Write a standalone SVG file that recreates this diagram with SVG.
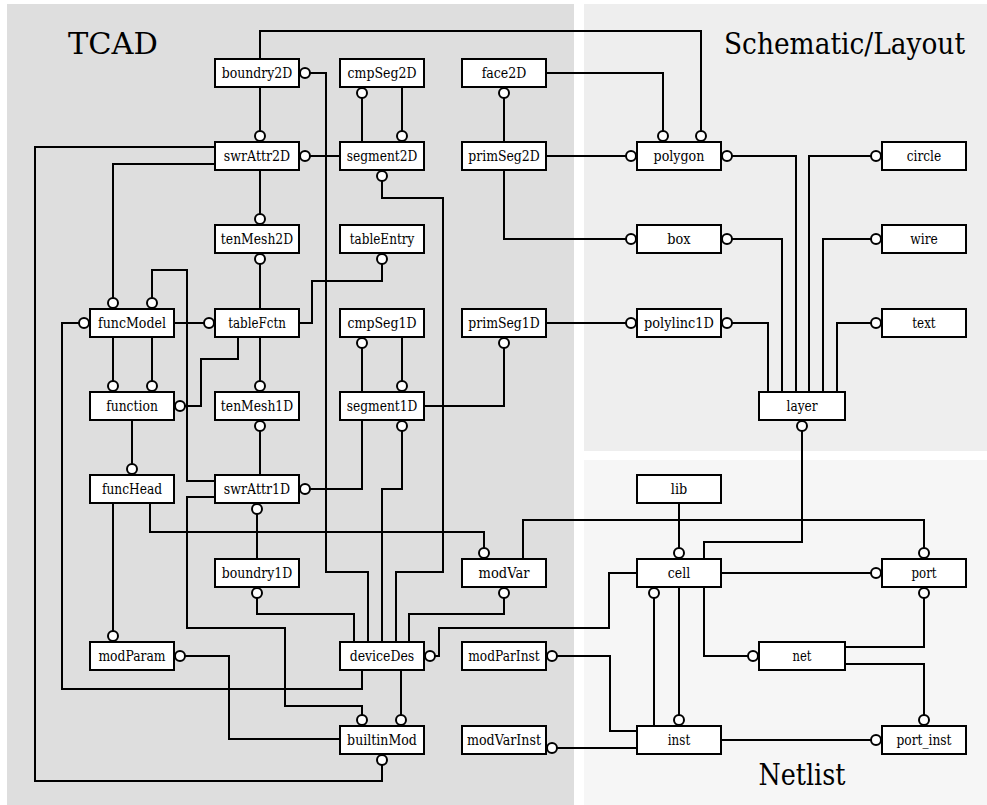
<svg xmlns="http://www.w3.org/2000/svg" width="987" height="805" viewBox="0 0 987 805">
  <style>
    .panel-tcad { fill: #dedede; }
    .panel-sch { fill: #eeeeee; }
    .panel-net { fill: #f6f6f6; }
    text { font-family: 'DejaVu Serif', 'Liberation Serif', serif; fill: #000; }
    .title { font-size: 30px; }
    .box { fill: #fff; stroke: #000; stroke-width: 2; }
    .lbl { font-size: 14px; text-anchor: middle; }
    .c { fill: none; stroke: #000; stroke-width: 2; stroke-linejoin: miter; }
  </style>
  <defs>
    <!-- open circle terminating a relation -->
    <marker id="o" viewBox="-7 -7 14 14" markerWidth="14" markerHeight="14" markerUnits="userSpaceOnUse" refX="0" refY="0" orient="auto">
      <circle r="5" fill="#fff" stroke="#000" stroke-width="2"/>
    </marker>
  </defs>

  <rect width="987" height="805" fill="#fff"/>

  <!-- domain panels -->
  <g id="panels">
    <rect class="panel-tcad" x="7" y="4" width="567" height="801"/>
    <rect class="panel-sch" x="584" y="4" width="403" height="447"/>
    <rect class="panel-net" x="584" y="460" width="403" height="345"/>
    <text class="title" x="68" y="54" textLength="90" lengthAdjust="spacingAndGlyphs">TCAD</text>
    <text class="title" x="965" y="54" text-anchor="end" textLength="241" lengthAdjust="spacingAndGlyphs">Schematic/Layout</text>
    <text class="title" x="802" y="785" text-anchor="middle" textLength="87" lengthAdjust="spacingAndGlyphs">Netlist</text>
  </g>

  <!-- relations -->
  <g id="connectors">
    <path class="c" d="M260,59 V31 H701 V136" marker-end="url(#o)"/>
    <path class="c" d="M260,87 V136" marker-end="url(#o)"/>
    <path class="c" d="M305,73 H326 V572 H368 V642" marker-start="url(#o)"/>
    <path class="c" d="M305,156 H340" marker-start="url(#o)"/>
    <path class="c" d="M362,93 V142" marker-start="url(#o)"/>
    <path class="c" d="M402,87 V136" marker-end="url(#o)"/>
    <path class="c" d="M382,176 V198 H443 V572 H396 V642" marker-start="url(#o)"/>
    <path class="c" d="M504,93 V142" marker-start="url(#o)"/>
    <path class="c" d="M546,73 H663 V136" marker-end="url(#o)"/>
    <path class="c" d="M546,156 H631" marker-end="url(#o)"/>
    <path class="c" d="M504,170 V239 H631" marker-end="url(#o)"/>
    <path class="c" d="M727,156 H796 V392" marker-start="url(#o)"/>
    <path class="c" d="M727,239 H782 V392" marker-start="url(#o)"/>
    <path class="c" d="M727,323 H768 V392" marker-start="url(#o)"/>
    <path class="c" d="M876,156 H809 V392" marker-start="url(#o)"/>
    <path class="c" d="M876,239 H823 V392" marker-start="url(#o)"/>
    <path class="c" d="M876,323 H837 V392" marker-start="url(#o)"/>
    <path class="c" d="M802,426 V542 H704 V559" marker-start="url(#o)"/>
    <path class="c" d="M679,503 V553" marker-end="url(#o)"/>
    <path class="c" d="M523,559 V520 H924 V553" marker-end="url(#o)"/>
    <path class="c" d="M721,573 H876" marker-end="url(#o)"/>
    <path class="c" d="M924,593 V647 H845" marker-start="url(#o)"/>
    <path class="c" d="M845,664 H924 V720" marker-end="url(#o)"/>
    <path class="c" d="M704,587 V656 H753" marker-end="url(#o)"/>
    <path class="c" d="M654,593 V726" marker-start="url(#o)"/>
    <path class="c" d="M679,587 V720" marker-end="url(#o)"/>
    <path class="c" d="M721,740 H876" marker-end="url(#o)"/>
    <path class="c" d="M552,656 H610 V731 H637" marker-start="url(#o)"/>
    <path class="c" d="M552,748 H637" marker-start="url(#o)"/>
    <path class="c" d="M430,656 H439 V628 H609 V573 H637" marker-start="url(#o)"/>
    <path class="c" d="M504,593 V614 H409 V642" marker-start="url(#o)"/>
    <path class="c" d="M401,670 V720" marker-end="url(#o)"/>
    <path class="c" d="M84,323 H62 V689 H362 V670" marker-start="url(#o)"/>
    <path class="c" d="M215,497 H187 V628 H285 V706 H362 V720" marker-end="url(#o)"/>
    <path class="c" d="M152,303 V270 H187 V481 H215" marker-start="url(#o)"/>
    <path class="c" d="M215,147 H35 V781 H382 V760" marker-end="url(#o)"/>
    <path class="c" d="M215,164 H113 V303" marker-end="url(#o)"/>
    <path class="c" d="M174,323 H209" marker-end="url(#o)"/>
    <path class="c" d="M260,259 V309" marker-start="url(#o)"/>
    <path class="c" d="M260,170 V219" marker-end="url(#o)"/>
    <path class="c" d="M299,323 H312 V281 H382 V259" marker-end="url(#o)"/>
    <path class="c" d="M238,337 V359 H201 V406 H180" marker-end="url(#o)"/>
    <path class="c" d="M260,337 V386" marker-end="url(#o)"/>
    <path class="c" d="M113,337 V386" marker-end="url(#o)"/>
    <path class="c" d="M152,337 V386" marker-end="url(#o)"/>
    <path class="c" d="M132,420 V469" marker-end="url(#o)"/>
    <path class="c" d="M260,426 V475" marker-start="url(#o)"/>
    <path class="c" d="M305,489 H362 V420" marker-start="url(#o)"/>
    <path class="c" d="M257,509 V559" marker-start="url(#o)"/>
    <path class="c" d="M257,593 V614 H354 V642" marker-start="url(#o)"/>
    <path class="c" d="M402,426 V489 H382 V642" marker-start="url(#o)"/>
    <path class="c" d="M362,343 V392" marker-start="url(#o)"/>
    <path class="c" d="M402,337 V386" marker-end="url(#o)"/>
    <path class="c" d="M424,406 H504 V343" marker-end="url(#o)"/>
    <path class="c" d="M546,323 H631" marker-end="url(#o)"/>
    <path class="c" d="M113,503 V636" marker-end="url(#o)"/>
    <path class="c" d="M150,503 V532 H484 V553" marker-end="url(#o)"/>
    <path class="c" d="M180,656 H229 V739 H340" marker-start="url(#o)"/>
  </g>

  <!-- TCAD entities -->
  <g id="boundry2D"><rect class="box" x="215" y="59" width="84" height="28"/><text class="lbl" x="257" y="78" textLength="70.6" lengthAdjust="spacingAndGlyphs">boundry2D</text></g>
  <g id="cmpSeg2D"><rect class="box" x="340" y="59" width="84" height="28"/><text class="lbl" x="382" y="78" textLength="68.9" lengthAdjust="spacingAndGlyphs">cmpSeg2D</text></g>
  <g id="face2D"><rect class="box" x="462" y="59" width="84" height="28"/><text class="lbl" x="504" y="78" textLength="44.7" lengthAdjust="spacingAndGlyphs">face2D</text></g>
  <g id="swrAttr2D"><rect class="box" x="215" y="142" width="84" height="28"/><text class="lbl" x="257" y="161" textLength="66.3" lengthAdjust="spacingAndGlyphs">swrAttr2D</text></g>
  <g id="segment2D"><rect class="box" x="340" y="142" width="84" height="28"/><text class="lbl" x="382" y="161" textLength="70.6" lengthAdjust="spacingAndGlyphs">segment2D</text></g>
  <g id="primSeg2D"><rect class="box" x="462" y="142" width="84" height="28"/><text class="lbl" x="504" y="161" textLength="71.5" lengthAdjust="spacingAndGlyphs">primSeg2D</text></g>
  <g id="tenMesh2D"><rect class="box" x="215" y="225" width="84" height="28"/><text class="lbl" x="257" y="244" textLength="72.3" lengthAdjust="spacingAndGlyphs">tenMesh2D</text></g>
  <g id="tableEntry"><rect class="box" x="340" y="225" width="84" height="28"/><text class="lbl" x="382" y="244" textLength="64.6" lengthAdjust="spacingAndGlyphs">tableEntry</text></g>
  <g id="funcModel"><rect class="box" x="90" y="309" width="84" height="28"/><text class="lbl" x="132" y="328" textLength="68" lengthAdjust="spacingAndGlyphs">funcModel</text></g>
  <g id="tableFctn"><rect class="box" x="215" y="309" width="84" height="28"/><text class="lbl" x="257" y="328" textLength="57.7" lengthAdjust="spacingAndGlyphs">tableFctn</text></g>
  <g id="cmpSeg1D"><rect class="box" x="340" y="309" width="84" height="28"/><text class="lbl" x="382" y="328" textLength="68.9" lengthAdjust="spacingAndGlyphs">cmpSeg1D</text></g>
  <g id="primSeg1D"><rect class="box" x="462" y="309" width="84" height="28"/><text class="lbl" x="504" y="328" textLength="71.5" lengthAdjust="spacingAndGlyphs">primSeg1D</text></g>
  <g id="function"><rect class="box" x="90" y="392" width="84" height="28"/><text class="lbl" x="132" y="411" textLength="51.7" lengthAdjust="spacingAndGlyphs">function</text></g>
  <g id="tenMesh1D"><rect class="box" x="215" y="392" width="84" height="28"/><text class="lbl" x="257" y="411" textLength="72.3" lengthAdjust="spacingAndGlyphs">tenMesh1D</text></g>
  <g id="segment1D"><rect class="box" x="340" y="392" width="84" height="28"/><text class="lbl" x="382" y="411" textLength="70.6" lengthAdjust="spacingAndGlyphs">segment1D</text></g>
  <g id="funcHead"><rect class="box" x="90" y="475" width="84" height="28"/><text class="lbl" x="132" y="494" textLength="60.2" lengthAdjust="spacingAndGlyphs">funcHead</text></g>
  <g id="swrAttr1D"><rect class="box" x="215" y="475" width="84" height="28"/><text class="lbl" x="257" y="494" textLength="66.3" lengthAdjust="spacingAndGlyphs">swrAttr1D</text></g>
  <g id="boundry1D"><rect class="box" x="215" y="559" width="84" height="28"/><text class="lbl" x="257" y="578" textLength="70.6" lengthAdjust="spacingAndGlyphs">boundry1D</text></g>
  <g id="modVar"><rect class="box" x="462" y="559" width="84" height="28"/><text class="lbl" x="504" y="578" textLength="50.8" lengthAdjust="spacingAndGlyphs">modVar</text></g>
  <g id="modParam"><rect class="box" x="90" y="642" width="84" height="28"/><text class="lbl" x="132" y="661" textLength="67.2" lengthAdjust="spacingAndGlyphs">modParam</text></g>
  <g id="deviceDes"><rect class="box" x="340" y="642" width="84" height="28"/><text class="lbl" x="382" y="661" textLength="64.6" lengthAdjust="spacingAndGlyphs">deviceDes</text></g>
  <g id="modParInst"><rect class="box" x="462" y="642" width="84" height="28"/><text class="lbl" x="504" y="661" textLength="71.5" lengthAdjust="spacingAndGlyphs">modParInst</text></g>
  <g id="builtinMod"><rect class="box" x="340" y="726" width="84" height="28"/><text class="lbl" x="382" y="745" textLength="69.8" lengthAdjust="spacingAndGlyphs">builtinMod</text></g>
  <g id="modVarInst"><rect class="box" x="462" y="726" width="84" height="28"/><text class="lbl" x="504" y="745" textLength="74" lengthAdjust="spacingAndGlyphs">modVarInst</text></g>

  <!-- Schematic/Layout entities -->
  <g id="polygon"><rect class="box" x="637" y="142" width="84" height="28"/><text class="lbl" x="679" y="161" textLength="50.8" lengthAdjust="spacingAndGlyphs">polygon</text></g>
  <g id="circle"><rect class="box" x="882" y="142" width="84" height="28"/><text class="lbl" x="924" y="161" textLength="34.4" lengthAdjust="spacingAndGlyphs">circle</text></g>
  <g id="box"><rect class="box" x="637" y="225" width="84" height="28"/><text class="lbl" x="679" y="244" textLength="23.3" lengthAdjust="spacingAndGlyphs">box</text></g>
  <g id="wire"><rect class="box" x="882" y="225" width="84" height="28"/><text class="lbl" x="924" y="244" textLength="27.5" lengthAdjust="spacingAndGlyphs">wire</text></g>
  <g id="polylinc1D"><rect class="box" x="637" y="309" width="84" height="28"/><text class="lbl" x="679" y="328" textLength="69.8" lengthAdjust="spacingAndGlyphs">polylinc1D</text></g>
  <g id="text"><rect class="box" x="882" y="309" width="84" height="28"/><text class="lbl" x="924" y="328" textLength="23.3" lengthAdjust="spacingAndGlyphs">text</text></g>
  <g id="layer"><rect class="box" x="759" y="392" width="86" height="28"/><text class="lbl" x="802" y="411" textLength="31" lengthAdjust="spacingAndGlyphs">layer</text></g>

  <!-- Netlist entities -->
  <g id="lib"><rect class="box" x="637" y="475" width="84" height="28"/><text class="lbl" x="679" y="494" textLength="16.4" lengthAdjust="spacingAndGlyphs">lib</text></g>
  <g id="cell"><rect class="box" x="637" y="559" width="84" height="28"/><text class="lbl" x="679" y="578" textLength="22.4" lengthAdjust="spacingAndGlyphs">cell</text></g>
  <g id="port"><rect class="box" x="882" y="559" width="84" height="28"/><text class="lbl" x="924" y="578" textLength="25" lengthAdjust="spacingAndGlyphs">port</text></g>
  <g id="net"><rect class="box" x="759" y="642" width="86" height="28"/><text class="lbl" x="802" y="661" textLength="18.9" lengthAdjust="spacingAndGlyphs">net</text></g>
  <g id="inst"><rect class="box" x="637" y="726" width="84" height="28"/><text class="lbl" x="679" y="745" textLength="22.4" lengthAdjust="spacingAndGlyphs">inst</text></g>
  <g id="port_inst"><rect class="box" x="882" y="726" width="84" height="28"/><text class="lbl" x="924" y="745" textLength="55.1" lengthAdjust="spacingAndGlyphs">port_inst</text></g>
</svg>
